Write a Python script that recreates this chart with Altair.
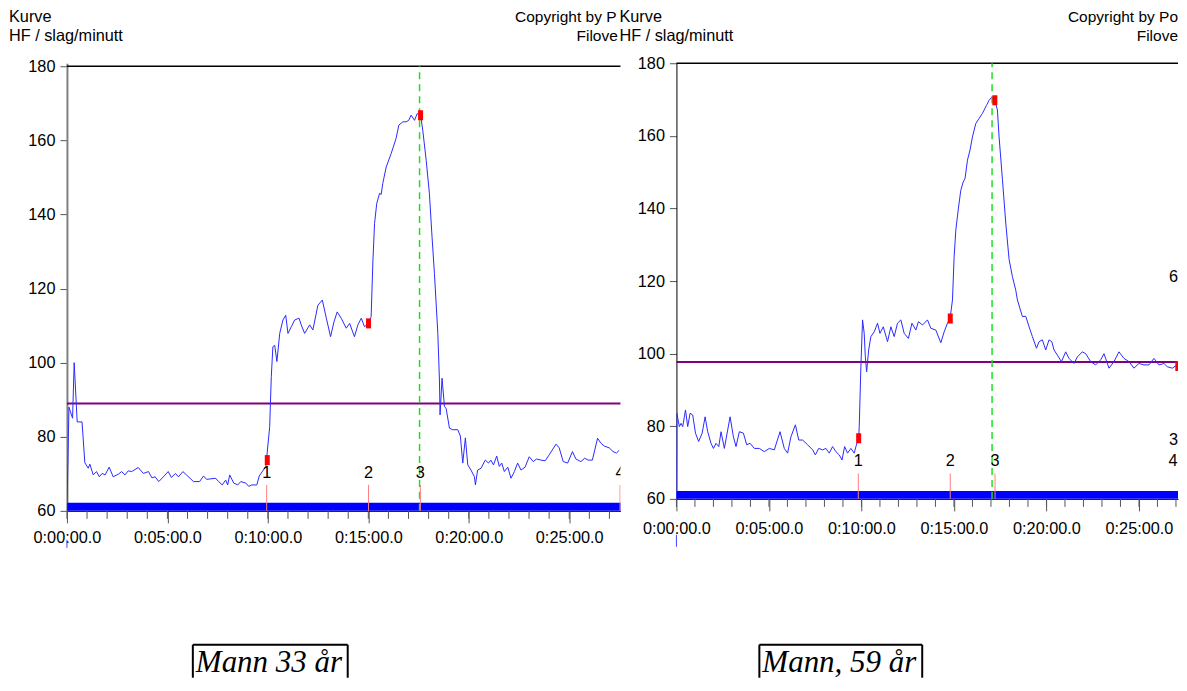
import altair as alt
import pandas as pd

SANS = "Liberation Sans"
SERIF = "Liberation Serif"

# ---------------- Panel 1 : Mann 33 år ----------------
P1_TIME = [
    0.0, 0.1, 0.28, 0.36, 0.51, 0.75, 0.89, 1.06, 1.14, 1.31,
    1.47, 1.61, 1.75, 1.9, 2.1, 2.3, 2.56, 2.72, 2.89, 3.05,
    3.22, 3.55, 3.8, 4.06, 4.23, 4.39, 4.57, 4.8, 5.04, 5.2,
    5.4, 5.55, 5.77, 5.95, 6.3, 6.6, 6.8, 6.95, 7.4, 7.55,
    7.73, 7.9, 8.0, 8.1, 8.3, 8.5, 8.65, 8.9, 9.05, 9.2,
    9.45, 9.57, 9.9, 10.09, 10.17, 10.25, 10.34, 10.45, 10.59, 10.75,
    10.89, 11.0, 11.17, 11.33, 11.55, 11.66, 11.83, 12.08, 12.24, 12.49,
    12.71, 12.91, 13.12, 13.29, 13.45, 13.65, 13.9, 14.07, 14.31, 14.48,
    14.65, 14.81, 15.01, 15.14, 15.23, 15.31, 15.42, 15.56, 15.64, 15.72,
    15.89, 16.14, 16.38, 16.52, 16.72, 16.88, 17.01, 17.13, 17.3, 17.43,
    17.6, 17.71, 17.88, 18.04, 18.17, 18.29, 18.46, 18.54, 18.57, 18.67,
    18.79, 18.87, 19.04, 19.2, 19.45, 19.58, 19.7, 19.83, 19.95, 20.11,
    20.28, 20.33, 20.44, 20.61, 20.82, 20.98, 21.1, 21.23, 21.39, 21.52,
    21.64, 21.77, 21.94, 22.1, 22.27, 22.43, 22.6, 22.8, 23.01, 23.21,
    23.37, 23.59, 23.8, 24.0, 24.34, 24.5, 24.7, 24.92, 25.16, 25.33,
    25.58, 25.77, 25.94, 26.15, 26.41, 26.57, 26.74, 26.99, 27.18, 27.35,
    27.48,
]
P1_HR = [
    60, 88, 85, 100, 84, 84, 73, 71.5, 72.6, 69.7,
    70.6, 69.2, 70.1, 69.7, 71.8, 69.2, 69.9, 70.6, 69.7, 70.8,
    70.6, 71.7, 70.1, 70.6, 68.9, 69.2, 67.9, 69.2, 70.6, 69.0,
    70.1, 69.2, 70.6, 69.7, 67.9, 67.9, 69.4, 68.5, 68.8, 67.9,
    67.0, 68.3, 67.0, 69.7, 67.5, 67.0, 67.9, 67.5, 66.6, 67.0,
    67.0, 69.4, 72.0, 82.7, 96.2, 104.3, 104.7, 100.3, 107.9, 111.5,
    112.8, 107.9, 109.7, 111.5, 112.0, 110.2, 107.9, 110.2, 108.8, 115.5,
    116.9, 112.0, 107.0, 111.0, 113.7, 112.0, 109.3, 110.6, 107.0, 110.2,
    112.0, 109.7, 110.6, 112.4, 127.7, 137.6, 143.0, 145.7, 145.4, 148.4,
    152.8, 156.5, 160.5, 164.1, 165.0, 165.0, 165.4, 166.8, 165.4, 167.2,
    166.8, 162.7, 154.6, 145.7, 134.0, 124.1, 107.9, 95.3, 85.9, 95.8,
    88.1, 87.7, 82.3, 81.9, 81.9, 80.2, 72.9, 79.7, 72.4, 71.0,
    69.2, 67.0, 71.0, 71.5, 73.7, 72.9, 73.7, 72.4, 74.8, 72.0,
    72.9, 70.6, 71.8, 68.8, 70.6, 72.9, 71.0, 71.8, 74.6, 73.3,
    74.0, 73.7, 73.5, 75.1, 78.0, 77.0, 73.3, 72.9, 76.0, 74.0,
    73.3, 74.2, 73.7, 73.7, 79.6, 78.3, 77.5, 77.0, 76.0, 75.6,
    76.3,
]
P1_EVENT_TIME = [9.94, 15.01, 17.59, 27.53]
P1_EVENT_LABEL_TIME = [9.94, 15.01, 17.59, 27.53]
P1_MARKER_TIME = [9.97, 15.01, 17.6]
P1_MARKER_HR = [73.7, 110.6, 166.8]
P1_REF_HR = 89
P1_PEAK_TIME = 17.55
P1_X_MAX = 27.55
P1_Y_TOP = 180.81
P1_CAPTION = "Mann 33 år"

# ---------------- Panel 2 : Mann, 59 år ----------------
P2_TIME = [
    0.0, 0.02, 0.16, 0.25, 0.34, 0.49, 0.61, 0.74, 0.88, 1.03,
    1.2, 1.39, 1.55, 1.69, 1.87, 2.0, 2.14, 2.29, 2.41, 2.59,
    2.9, 3.08, 3.22, 3.4, 3.62, 3.8, 3.98, 4.21, 4.48, 4.75,
    5.02, 5.29, 5.6, 5.83, 6.01, 6.19, 6.43, 6.61, 6.82, 7.09,
    7.36, 7.51, 7.69, 7.9, 8.08, 8.26, 8.44, 8.62, 8.8, 8.95,
    9.09, 9.25, 9.43, 9.61, 9.7, 9.85, 9.88, 9.97, 10.06, 10.15,
    10.21, 10.28, 10.39, 10.51, 10.69, 10.87, 11.0, 11.18, 11.41, 11.59,
    11.77, 11.95, 12.13, 12.31, 12.54, 12.73, 12.94, 13.08, 13.3, 13.57,
    13.75, 14.02, 14.29, 14.47, 14.65, 14.79, 14.92, 15.01, 15.1, 15.25,
    15.37, 15.5, 15.6, 15.73, 15.87, 16.0, 16.18, 16.36, 16.54, 16.76,
    16.9, 17.05, 17.21, 17.35, 17.44, 17.62, 17.8, 17.98, 18.16, 18.34,
    18.43, 18.7, 18.88, 19.06, 19.24, 19.46, 19.6, 19.78, 19.96, 20.14,
    20.29, 20.41, 20.59, 20.81, 21.04, 21.22, 21.49, 21.67, 21.94, 22.12,
    22.39, 22.66, 22.93, 23.11, 23.38, 23.65, 23.92, 24.19, 24.46, 24.73,
    25.0, 25.27, 25.54, 25.81, 26.08, 26.35, 26.53, 26.8, 27.07, 27.3,
]
P2_HR = [
    60, 83.6, 79.9, 80.8, 79.9, 84.5, 79.9, 83.6, 83.1, 78.1,
    75.8, 78.1, 82.6, 78.5, 75.3, 73.9, 75.3, 74.4, 78.5, 73.9,
    82.6, 77.1, 74.4, 78.5, 78.1, 74.9, 75.3, 73.9, 73.9, 73.0,
    73.9, 73.5, 78.5, 73.9, 72.6, 77.1, 80.4, 76.2, 76.2, 74.9,
    73.5, 72.1, 73.9, 73.5, 73.9, 72.6, 74.4, 73.0, 72.1, 70.7,
    74.4, 72.6, 73.9, 72.6, 74.4, 76.7, 79.9, 96.4, 109.3, 105.6,
    99.2, 95.0, 101.0, 104.7, 106.0, 108.4, 105.6, 107.4, 103.3, 107.4,
    104.7, 108.4, 109.3, 105.6, 104.2, 108.4, 106.5, 108.8, 107.9, 109.3,
    107.0, 106.5, 103.0, 106.0, 108.4, 109.7, 114.8, 126.7, 134.0, 140.4,
    145.0, 147.3, 148.3, 153.3, 156.1, 159.7, 163.4, 164.8, 166.2, 168.4,
    169.8, 170.7, 169.8, 167.1, 159.7, 148.0, 136.0, 126.0, 121.2, 117.5,
    114.8, 110.2, 110.3, 107.4, 104.7, 101.5, 103.3, 103.8, 101.0, 103.8,
    103.3, 101.0, 99.6, 97.8, 100.5, 98.7, 97.3, 99.1, 100.5, 100.0,
    97.8, 96.9, 98.3, 100.0, 96.0, 97.8, 100.5, 98.7, 97.8, 96.0,
    97.3, 96.9, 96.9, 98.7, 96.9, 97.3, 96.4, 96.0, 96.9, 97.0,
]
P2_EVENT_TIME = [9.83, 14.8, 17.22, 27.16]
P2_EVENT_LABEL_TIME = [9.83, 14.8, 17.22, 26.84]
P2_MARKER_TIME = [9.85, 14.8, 17.21, 27.1]
P2_MARKER_HR = [76.7, 109.7, 169.8, 96.6]
P2_REF_HR = 97.7
P2_PEAK_TIME = 17.06
P2_X_MAX = 27.11
P2_Y_TOP = 180
P2_CAPTION = "Mann, 59 år"

# ---------------- shared ----------------
EVENT_LABELS = ["1", "2", "3", "4"]
EVENT_LINE_HR = [60, 67]
EVENT_LABEL_HR = 70.3
BAR_HR = [60, 62.2]
Y_TICKS = [60, 80, 100, 120, 140, 160, 180]
X_TICKS = [0, 5, 10, 15, 20, 25]
MINOR_TICKS = list(range(0, 28))
TITLE_1 = "Kurve"
TITLE_2 = "HF / slag/minutt"
COPY_1 = "Copyright by P"
COPY_2 = "Copyright by Po"
FILE_TXT = "Filove"
LABEL_EXPR = "'0:' + (datum.value < 10 ? '0' : '') + datum.value + ':00.0'"

assert len(P1_TIME) == len(P1_HR) and len(P2_TIME) == len(P2_HR)

ONE = pd.DataFrame({"k": [0]})
FS = 16.3
FS_COPY = 15.5


def text_at(txt, x, y, size, font=SANS, style="normal", align="left"):
    return alt.Chart(ONE).mark_text(
        text=txt, align=align, baseline="alphabetic", font=font, fontSize=size,
        fontStyle=style, color="black",
    ).encode(x=alt.value(x), y=alt.value(y))


def seg(x, x2, y, y2, color="black", width=2):
    return alt.Chart(ONE).mark_rule(color=color, strokeWidth=width).encode(
        x=alt.value(x), x2=alt.value(x2), y=alt.value(y), y2=alt.value(y2)
    )


def panel(time, hr, ev_t, ev_lt, mk_t, mk_hr, ref_hr, peak_t, x_max, y_top, caption, L):
    W, H = L["w"], L["h"]
    xs = alt.Scale(domain=[0, x_max], nice=False, zero=False)
    ys = alt.Scale(domain=[60, y_top], nice=False, zero=False)
    x_axis = alt.Axis(
        values=X_TICKS, labelExpr=LABEL_EXPR, tickSize=12, tickColor="#555555",
        labelPadding=L["xpad"], labelFont=SANS, labelFontSize=FS, labelColor="black",
        domainColor="black", grid=False, title=None, labelFlush=False,
        labelOverlap=False,
    )
    y_axis = alt.Axis(
        values=Y_TICKS, tickSize=7, tickColor="#555555", labelPadding=5,
        labelFont=SANS, labelFontSize=FS, labelColor="black",
        domainColor=L["ydom"], domainWidth=L["ydomw"], grid=False, title=None,
    )

    def X(f):
        return alt.X(f, type="quantitative", scale=xs, axis=x_axis)

    def Y(f):
        return alt.Y(f, type="quantitative", scale=ys, axis=y_axis)

    bar = alt.Chart(pd.DataFrame({"t0": [0], "t1": [x_max], "y0": [BAR_HR[0]], "y1": [BAR_HR[1]]})).mark_rect(
        color="#0000ff"
    ).encode(x=X("t0"), x2="t1", y=Y("y0"), y2="y1")

    minor = alt.Chart(pd.DataFrame({"m": [m for m in MINOR_TICKS if m <= x_max]})).mark_rule(
        color="#555555", strokeWidth=1
    ).encode(x=X("m"), y=alt.value(H), y2=alt.value(H + 8))

    ref = alt.Chart(pd.DataFrame({"t0": [0], "t1": [x_max], "y": [ref_hr]})).mark_rule(
        color="#800080", strokeWidth=2
    ).encode(x=X("t0"), x2="t1", y=Y("y"))

    line = alt.Chart(pd.DataFrame({"t": time, "hr": hr})).mark_line(
        color="#2a2aff", strokeWidth=1, clip=True
    ).encode(x=X("t"), y=Y("hr"))

    top = alt.Chart(pd.DataFrame({"t0": [0], "t1": [x_max], "y": [180]})).mark_rule(
        color="black", strokeWidth=1.5
    ).encode(x=X("t0"), x2="t1", y=Y("y"))

    green = alt.Chart(pd.DataFrame({"t": [peak_t], "lo": [60], "hi": [180]})).mark_rule(
        color="#22dd22", strokeWidth=1.5, strokeDash=[7, 5]
    ).encode(x=X("t"), y=Y("lo"), y2="hi")

    ev_df = pd.DataFrame({
        "t": ev_t, "lo": [EVENT_LINE_HR[0]] * len(ev_t), "hi": [EVENT_LINE_HR[1]] * len(ev_t),
    })
    lab_df = pd.DataFrame({
        "t": ev_lt, "lab": EVENT_LABELS[: len(ev_lt)], "ly": [EVENT_LABEL_HR] * len(ev_lt),
    })
    ev_lines = alt.Chart(ev_df).mark_rule(color="#ff8080", strokeWidth=1, clip=True).encode(
        x=X("t"), y=Y("lo"), y2="hi"
    )
    ev_text = alt.Chart(lab_df).mark_text(
        font=SANS, fontSize=FS, color="black", align="center", baseline="middle", clip=True
    ).encode(x=X("t"), y=Y("ly"), text="lab:N")

    markers = alt.Chart(pd.DataFrame({"t": mk_t, "hr": mk_hr})).mark_point(
        shape="M-0.5,-1H0.5V1H-0.5Z", size=100, filled=True, color="#ff0000",
        opacity=1, strokeWidth=0, clip=True,
    ).encode(x=X("t"), y=Y("hr"))

    blue_tick = alt.Chart(pd.DataFrame({"t": [0]})).mark_rule(color="#4040ff", strokeWidth=1).encode(
        x=X("t"), y=alt.value(H + L["bt"][0]), y2=alt.value(H + L["bt"][1])
    )

    layers = [bar, minor, ref, line, top, green, ev_lines, ev_text, markers, blue_tick]

    layers += [
        text_at(TITLE_1, L["kx"], -41.5, FS),
        text_at(TITLE_2, L["kx"], -22.2, FS),
        text_at(L["copy"], L["cx"], -41.5, FS_COPY, align=L["calign"]),
        text_at(FILE_TXT, L["fx"], -22.2, FS_COPY, align=L["calign"]),
        text_at(caption, L["capx"], 609, 31, font=SERIF, style="italic"),
        seg(L["box"][0], L["box"][0], 582, 615),
        seg(L["box"][1], L["box"][1], 582, 615),
        seg(L["box"][0], L["box"][1], 582, 582),
    ]
    for txt, yy in L.get("extra", []):
        layers.append(text_at(txt, W, yy, FS, align="right"))
    if L.get("anchor"):
        layers.append(
            alt.Chart(ONE).mark_rect(color="white", opacity=1).encode(
                x=alt.value(-59), x2=alt.value(-58), y=alt.value(-55), y2=alt.value(-54)
            )
        )
    return alt.layer(*layers).properties(width=W, height=H)


LAYOUT_1 = dict(w=554, h=448, ydom="#808080", ydomw=2, bt=(29, 37), kx=-58, cx=448.5, fx=510,
                calign="left", copy=COPY_1, capx=129, box=(126, 281), anchor=True, xpad=7)
LAYOUT_2 = dict(w=502, h=436, ydom="#000000", ydomw=1, bt=(36, 48), kx=-57, cx=502, fx=502,
                calign="right", copy=COPY_2, capx=86, box=(83, 246), xpad=10,
                extra=[("6", 219), ("3", 382)])

left = panel(P1_TIME, P1_HR, P1_EVENT_TIME, P1_EVENT_LABEL_TIME, P1_MARKER_TIME, P1_MARKER_HR,
             P1_REF_HR, P1_PEAK_TIME, P1_X_MAX, P1_Y_TOP, P1_CAPTION, LAYOUT_1)
right = panel(P2_TIME, P2_HR, P2_EVENT_TIME, P2_EVENT_LABEL_TIME, P2_MARKER_TIME, P2_MARKER_HR,
              P2_REF_HR, P2_PEAK_TIME, P2_X_MAX, P2_Y_TOP, P2_CAPTION, LAYOUT_2)

chart = alt.hconcat(left, right, spacing=56, bounds="flush", padding=0).configure_view(strokeWidth=0)

chart.save("out.html", embed_options={"renderer": "svg", "actions": False})
